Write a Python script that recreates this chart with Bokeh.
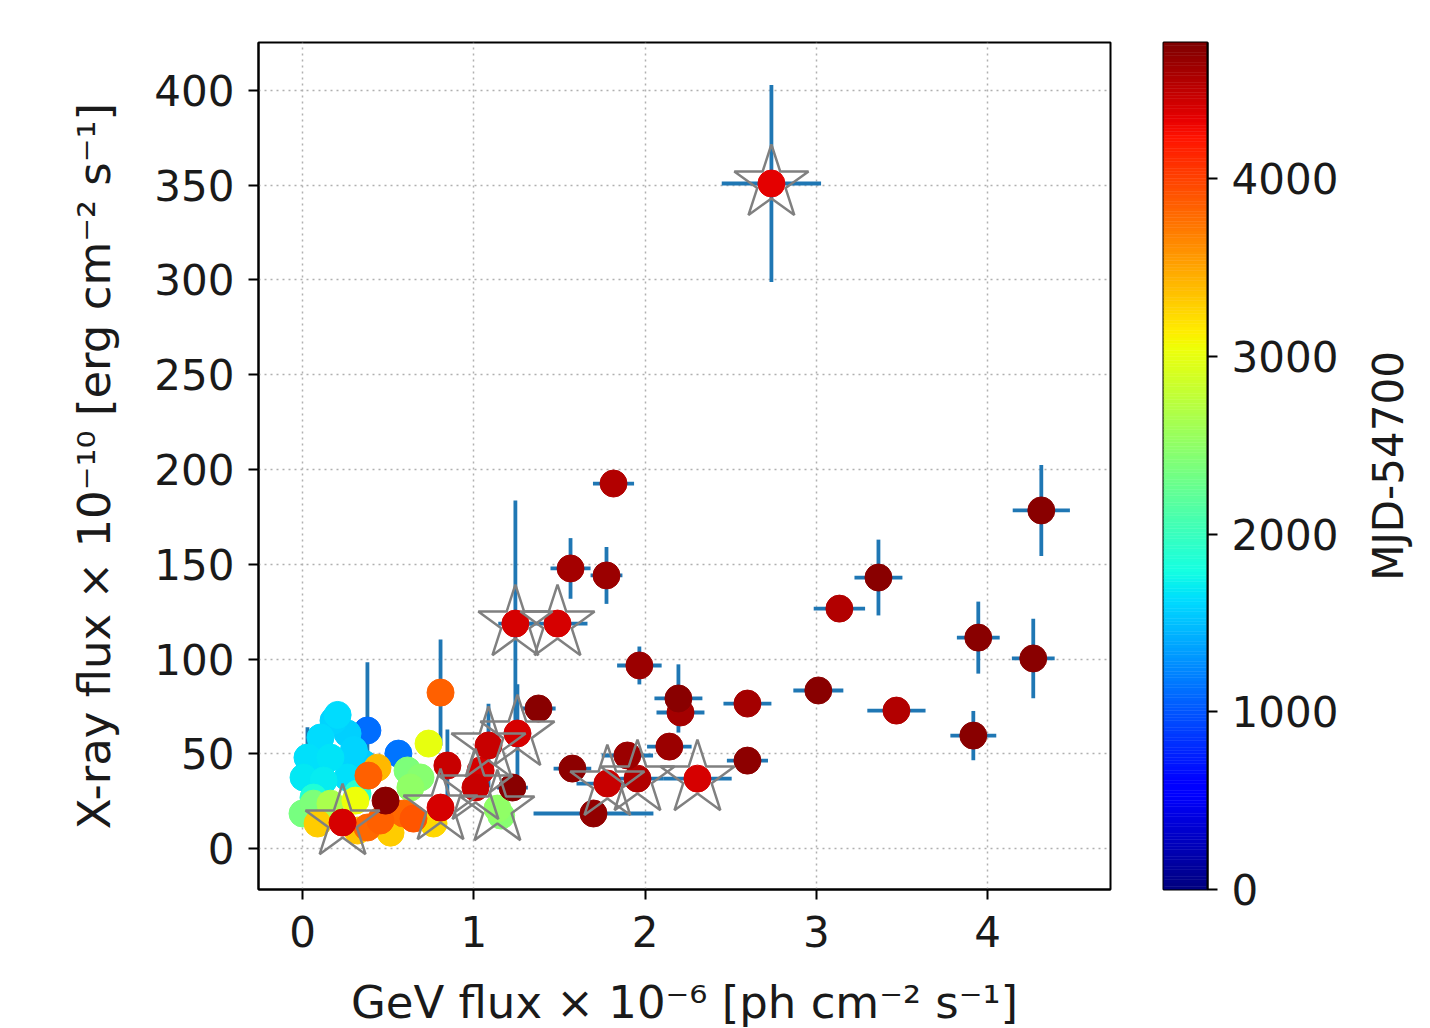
import numpy as np
from bokeh.plotting import figure
from bokeh.models import (ColumnDataSource, LinearColorMapper, Range1d, FixedTicker)
from bokeh.transform import transform
from bokeh.layouts import row
from bokeh.embed import file_html
from bokeh.resources import INLINE

# ---------------- data ----------------
gev_flux = [2.738, 1.816, 1.565, 1.775, 1.243, 1.489, 1.378, 1.576, 1.699, 1.967,
            2.195, 2.207, 2.142, 2.598, 2.598, 2.306, 1.897, 1.780, 1.956, 3.012,
            3.135, 3.363, 3.468, 3.917, 3.946, 4.267, 4.314,
            0.181, 0.105, 0.263, 0.029, 0.163, 0.280, 0.006, 0.123, 0.263, 0.356,
            0.064, 0.321, 0.379, 0.560, 0.385, 0.438, 0.485, 0.234, 0.613, 0.689,
            0.000, 0.064, 0.630, 0.163, 0.736, 0.309, 0.455, 0.590, 0.648, 0.379,
            0.088, 0.321, 0.514, 0.765, 0.806, 0.846, 0.806, 1.255, 1.086, 1.226,
            1.010, 1.138, 1.160, 1.040, 0.205, 0.040, 0.300]
gev_err = [0.29, 0.12, 0.117, 0.093, 0.10, 0.175, 0.10, 0.11, 0.35, 0.13,
           0.14, 0.14, 0.13, 0.14, 0.12, 0.20, 0.15, 0.18, 0.15, 0.146,
           0.15, 0.14, 0.17, 0.134, 0.125, 0.125, 0.167,
           0.03, 0.03, 0.03, 0.03, 0.03, 0.03, 0.03, 0.03, 0.03, 0.03,
           0.03, 0.03, 0.04, 0.04, 0.04, 0.04, 0.04, 0.04, 0.04, 0.04,
           0.03, 0.03, 0.04, 0.03, 0.04, 0.04, 0.04, 0.04, 0.04, 0.04,
           0.03, 0.03, 0.04, 0.04, 0.05, 0.05, 0.05, 0.08, 0.06, 0.09,
           0.06, 0.07, 0.07, 0.06, 0.03, 0.03, 0.03]
xray_flux = [350.9, 192.6, 147.8, 144.1, 118.7, 118.7, 73.9, 42.2, 18.5, 96.6,
             79.2, 71.8, 53.8, 76.5, 46.4, 36.9, 49.1, 34.3, 36.9, 83.4,
             126.6, 143.0, 72.8, 59.6, 111.3, 100.3, 178.4,
             67.5, 58.6, 60.7, 48.0, 48.0, 46.4, 37.5, 35.9, 37.5, 44.9,
             26.9, 29.0, 62.3, 50.1, 38.5, 42.7, 25.3, 13.7, 41.2, 37.5,
             18.5, 23.7, 32.2, 23.7, 55.4, 25.3, 14.8, 18.5, 15.8, 11.1,
             13.2, 9.5, 8.4, 13.2, 21.6, 43.8, 82.3, 60.7, 54.4, 32.2,
             32.2, 21.1, 17.4, 41.2, 70.5, 42.0, 52.0]
xray_err = [52, 4, 16, 15, 65, 4, 4, 3, 3, 10,
            18, 5, 3, 3, 4, 3, 3, 3, 3, 6,
            4, 20, 3, 13, 19, 21, 24,
            4, 4, 4, 16, 4, 4, 4, 4, 4, 4,
            4, 4, 36, 4, 4, 4, 4, 3, 4, 4,
            4, 4, 4, 4, 4, 4, 3, 3, 3, 3,
            3, 3, 3, 3, 4, 19, 28, 26, 22, 4,
            4, 4, 4, 4, 4, 4, 4]
mjd_offset = [4350, 4550, 4600, 4650, 4400, 4400, 4720, 4700, 4680, 4650,
              4720, 4600, 4650, 4600, 4700, 4400, 4650, 4450, 4550, 4720,
              4550, 4720, 4550, 4720, 4720, 4720, 4720,
              1600, 1620, 1580, 1640, 1660, 1600, 1680, 1700, 1650, 1560,
              1850, 1900, 1100, 1150, 3850, 3400, 4720, 4400, 2400, 2450,
              2350, 2400, 2500, 2650, 3000, 3050, 3850, 3800, 3900, 3800,
              3300, 3350, 3300, 3250, 4400, 4450, 3850, 4400, 4450, 4720,
              4450, 2500, 2450, 4400, 1620, 1640, 1600]
is_star = [1, 0, 0, 0, 1, 1, 0, 0, 0, 0,
           0, 0, 0, 0, 0, 1, 0, 1, 1, 0,
           0, 0, 0, 0, 0, 0, 0,
           0, 0, 0, 0, 0, 0, 0, 0, 0, 0,
           0, 0, 0, 0, 0, 0, 0, 1, 0, 0,
           0, 0, 0, 0, 0, 0, 0, 0, 0, 0,
           0, 0, 0, 0, 1, 0, 0, 1, 1, 0,
           1, 1, 0, 0, 0, 0, 0]
x_ticks = [0, 1, 2, 3, 4]
y_ticks = [0, 50, 100, 150, 200, 250, 300, 350, 400]
cb_ticks = [0, 1000, 2000, 3000, 4000]
cb_max = 4766
x_label = "GeV flux \u00d7 10\u207b\u2076 [ph cm\u207b\u00b2 s\u207b\u00b9]"
y_label = "X-ray flux \u00d7 10\u207b\u00b9\u2070 [erg cm\u207b\u00b2 s\u207b\u00b9]"
cb_label = "MJD-54700"

# ---------------- jet colormap ----------------
def jet_palette(n=256):
    v = np.linspace(0, 1, n)
    r = np.interp(v, [0, 0.35, 0.66, 0.89, 1], [0, 0, 1, 1, 0.5])
    g = np.interp(v, [0, 0.125, 0.375, 0.64, 0.91, 1], [0, 0, 1, 1, 0, 0])
    b = np.interp(v, [0, 0.11, 0.34, 0.65, 1], [0.5, 1, 1, 0, 0])
    return ["#%02x%02x%02x" % (int(round(a * 255)), int(round(bb * 255)), int(round(c * 255)))
            for a, bb, c in zip(r, g, b)]

palette = jet_palette()
mapper = LinearColorMapper(palette=palette, low=0, high=cb_max)

x = np.array(gev_flux)
xe = np.array(gev_err)
y = np.array(xray_flux)
ye = np.array(xray_err)
t = np.array(mjd_offset)
st = np.array(is_star, dtype=bool)
order = np.argsort(t, kind="stable")

src = ColumnDataSource(dict(x=x[order], y=y[order], t=t[order]))
star_src = ColumnDataSource(dict(x=x[st], y=y[st]))

FONT = "DejaVu Sans"
TXT = "#1a1a1a"

p = figure(frame_width=852, frame_height=847, output_backend="svg", toolbar_location=None,
           x_range=Range1d(-0.257, 4.718), y_range=Range1d(-21.6, 425.3),
           min_border_left=258, min_border_right=30, min_border_top=42, min_border_bottom=135)
p.background_fill_color = "white"
p.border_fill_color = "white"
p.outline_line_color = "black"
p.outline_line_width = 2

# error bars
p.segment(x0=x - xe, y0=y, x1=x + xe, y1=y, line_color="#1f77b4", line_width=3.8)
p.segment(x0=x, y0=y - ye, x1=x, y1=y + ye, line_color="#1f77b4", line_width=3.8)
# coloured points
p.scatter("x", "y", source=src, size=27, marker="circle",
          fill_color=transform("t", mapper), line_color=transform("t", mapper), line_width=1)
# stars
p.scatter("x", "y", source=star_src, marker="star", size=78, fill_color=None,
          line_color="#808080", line_width=2.5)

for ax in (p.xaxis[0], p.yaxis[0]):
    ax.major_label_text_font = FONT
    ax.major_label_text_font_size = "42px"
    ax.major_label_text_color = TXT
    ax.axis_label_text_font = FONT
    ax.axis_label_text_font_size = "45px"
    ax.axis_label_text_font_style = "normal"
    ax.axis_label_text_color = TXT
    ax.major_tick_in = 0
    ax.major_tick_out = 10
    ax.major_tick_line_width = 2
    ax.minor_tick_line_color = None
    ax.axis_line_width = 2
p.xaxis.ticker = FixedTicker(ticks=x_ticks)
p.yaxis.ticker = FixedTicker(ticks=y_ticks)
p.xaxis.axis_label = x_label
p.yaxis.axis_label = y_label
p.xaxis.major_label_standoff = 16
p.yaxis.major_label_standoff = 14
p.xaxis.axis_label_standoff = 26
p.yaxis.axis_label_standoff = 30
for g in (p.xgrid[0], p.ygrid[0]):
    g.grid_line_color = "#b0b0b0"
    g.grid_line_width = 1.5
    g.grid_line_dash = "2 4"
p.xgrid.ticker = FixedTicker(ticks=x_ticks)
p.ygrid.ticker = FixedTicker(ticks=y_ticks)

# ---------------- colour bar as its own figure ----------------
edges = np.linspace(0, cb_max, len(palette) + 1)
cb = figure(frame_width=44, frame_height=847, output_backend="svg", toolbar_location=None,
            x_range=Range1d(0, 1), y_range=Range1d(0, cb_max),
            x_axis_location=None, y_axis_location="right",
            min_border_left=23, min_border_right=150, min_border_top=42, min_border_bottom=135)
cb.quad(left=0, right=1, bottom=edges[:-1], top=edges[1:], fill_color=palette,
        line_color=palette, line_width=0.5)
cb.outline_line_color = "black"
cb.outline_line_width = 2
cb.xgrid.visible = False
cb.ygrid.visible = False
cb.background_fill_color = "white"
cb.border_fill_color = "white"
cax = cb.yaxis[0]
cax.ticker = FixedTicker(ticks=cb_ticks)
cax.major_label_text_font = FONT
cax.major_label_text_font_size = "42px"
cax.major_label_text_color = TXT
cax.major_tick_in = 0
cax.major_tick_out = 10
cax.major_tick_line_width = 2
cax.minor_tick_line_color = None
cax.axis_line_width = 2
cax.major_label_standoff = 14

# ---------------- colour-bar title (reads bottom-to-top) ----------------
lab = figure(frame_width=1, frame_height=847, output_backend="svg", toolbar_location=None,
             x_range=Range1d(0, 1), y_range=Range1d(0, cb_max),
             x_axis_location=None, y_axis_location="left",
             min_border_left=55, min_border_right=2, min_border_top=42, min_border_bottom=135)
lab.outline_line_color = None
lab.xgrid.visible = False
lab.ygrid.visible = False
lab.background_fill_color = "white"
lab.border_fill_color = "white"
lax = lab.yaxis[0]
lax.ticker = FixedTicker(ticks=[])
lax.axis_line_color = None
lax.major_tick_line_color = None
lax.minor_tick_line_color = None
lax.major_label_text_font_size = "1px"
lax.axis_label = cb_label
lax.axis_label_text_font = FONT
lax.axis_label_text_font_size = "42px"
lax.axis_label_text_font_style = "normal"
lax.axis_label_text_color = TXT
lax.axis_label_standoff = 0

layout = row(p, cb, lab)
open("out.html", "w").write(file_html(layout, INLINE))
